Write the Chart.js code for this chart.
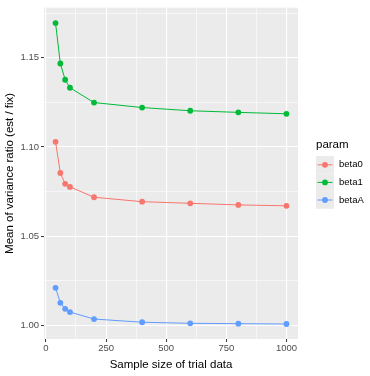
<!DOCTYPE html>
<html>
<head>
<meta charset="utf-8">
<script src="https://cdn.jsdelivr.net/npm/chart.js@4"></script>
<style>
  html, body { margin: 0; padding: 0; background: #fff; }
  #wrap { width: 370px; height: 376px; }
</style>
</head>
<body>
<div id="wrap"><canvas id="varChart" width="370" height="376"></canvas></div>
<script>
// sample sizes and mean variance ratios
const sampleSizes = [40, 60, 80, 100, 200, 400, 600, 800, 1000];
const beta0 = [1.1029, 1.0854, 1.0793, 1.0776, 1.0718, 1.0693, 1.0684, 1.0675, 1.0670];
const beta1 = [1.1695, 1.1468, 1.1377, 1.1332, 1.1249, 1.1221, 1.1203, 1.1194, 1.1186];
const betaA = [1.0210, 1.0126, 1.0092, 1.0074, 1.0035, 1.0017, 1.0011, 1.0009, 1.0007];

const seriesNames = ['beta0', 'beta1', 'betaA'];
const seriesColors = ['#F8766D', '#00BA38', '#619CFF'];

// major + minor grid positions; only majors get labels
const xTicks = [0, 125, 250, 375, 500, 625, 750, 875, 1000];
const xLabels = ['0', '250', '500', '750', '1000'];
const yTicks = [1.000, 1.025, 1.050, 1.075, 1.100, 1.125, 1.150, 1.175];
const yLabels = ['1.00', '1.05', '1.10', '1.15'];

const FONT = "'Liberation Sans', Arial, sans-serif";

function makeSet(name, values, color) {
    return {
        label: name,
        data: sampleSizes.map((x, i) => ({ x: x, y: values[i] })),
        borderColor: color,
        backgroundColor: color,
        borderWidth: 1,
        pointRadius: 2.9,
        pointHoverRadius: 2.9,
        pointBorderWidth: 0,
        tension: 0
    };
}

const fmtX = v => String(v);
const fmtY = v => v.toFixed(2);
const isMajorX = v => xLabels.includes(fmtX(v));
const isMajorY = v => Math.round(v * 1000) % 50 === 0;

// grey panel behind the plot
const panelBg = {
    id: 'panelBg',
    beforeDraw(chart) {
        const a = chart.chartArea, c = chart.ctx;
        c.save();
        c.fillStyle = '#EBEBEB';
        c.fillRect(a.left, a.top, a.right - a.left, a.bottom - a.top);
        c.restore();
    }
};

// ggplot-style legend on the right
const ggLegend = {
    id: 'ggLegend',
    afterDraw(chart) {
        const c = chart.ctx;
        const x0 = 316, titleY = 145, keyTop = 156, keyH = 17.6, keyW = 18;
        c.save();
        c.fillStyle = '#000';
        c.font = '11.5px ' + FONT;
        c.textBaseline = 'middle';
        c.fillText('param', x0, titleY);
        chart.data.datasets.forEach((ds, i) => {
            const y = keyTop + i * keyH;
            c.fillStyle = '#EBEBEB';
            c.fillRect(x0, y, keyW, keyH);
            c.strokeStyle = ds.borderColor;
            c.lineWidth = 1;
            c.beginPath();
            c.moveTo(x0 + 1.5, y + keyH / 2);
            c.lineTo(x0 + keyW - 1.5, y + keyH / 2);
            c.stroke();
            c.fillStyle = ds.borderColor;
            c.beginPath();
            c.arc(x0 + keyW / 2, y + keyH / 2, 2.9, 0, Math.PI * 2);
            c.fill();
            c.fillStyle = '#000';
            c.font = '9.5px ' + FONT;
            c.fillText(ds.label, x0 + keyW + 5, y + keyH / 2);
        });
        c.restore();
    }
};

const ctx = document.getElementById('varChart').getContext('2d');

const varChart = new Chart(ctx, {
    type: 'line',
    data: {
        datasets: [
            makeSet(seriesNames[0], beta0, seriesColors[0]),
            makeSet(seriesNames[1], beta1, seriesColors[1]),
            makeSet(seriesNames[2], betaA, seriesColors[2])
        ]
    },
    options: {
        responsive: false,
        animation: false,
        layout: { padding: { top: 5, right: 72, left: 0, bottom: 0 } },
        plugins: {
            legend: { display: false },
            tooltip: { enabled: false }
        },
        scales: {
            x: {
                type: 'linear',
                min: -8,
                max: 1048,
                afterBuildTicks: s => { s.ticks = xTicks.map(v => ({ value: v })); },
                afterFit: s => { s.height = 37; },
                border: { display: false },
                grid: {
                    color: '#FFFFFF',
                    lineWidth: c => isMajorX(c.tick.value) ? 1.1 : 0.55,
                    tickColor: c => isMajorX(c.tick.value) ? '#333333' : 'rgba(0,0,0,0)',
                    tickLength: 3,
                    tickWidth: 1
                },
                ticks: {
                    autoSkip: false,
                    maxRotation: 0,
                    padding: 1,
                    color: '#4D4D4D',
                    font: { family: FONT, size: 9.5 },
                    callback: v => isMajorX(v) ? fmtX(v) : ''
                },
                title: {
                    display: true,
                    text: 'Sample size of trial data',
                    color: '#000',
                    font: { family: FONT, size: 11.5 },
                    padding: { top: 0, bottom: 4 }
                }
            },
            y: {
                type: 'linear',
                min: 0.9923,
                max: 1.1781,
                afterBuildTicks: s => { s.ticks = yTicks.map(v => ({ value: v })); },
                afterFit: s => { s.width = 44; },
                border: { display: false },
                grid: {
                    color: '#FFFFFF',
                    lineWidth: c => isMajorY(c.tick.value) ? 1.1 : 0.55,
                    tickColor: c => isMajorY(c.tick.value) ? '#333333' : 'rgba(0,0,0,0)',
                    tickLength: 3,
                    tickWidth: 1
                },
                ticks: {
                    autoSkip: false,
                    padding: 2,
                    color: '#4D4D4D',
                    font: { family: FONT, size: 9.5 },
                    callback: v => isMajorY(v) && yLabels.includes(fmtY(v)) ? fmtY(v) : ''
                },
                title: {
                    display: true,
                    text: 'Mean of variance ratio (est / fix)',
                    color: '#000',
                    font: { family: FONT, size: 11.5 },
                    padding: { top: 3, bottom: 0 }
                }
            }
        }
    },
    plugins: [panelBg, ggLegend]
});
</script>
</body>
</html>
